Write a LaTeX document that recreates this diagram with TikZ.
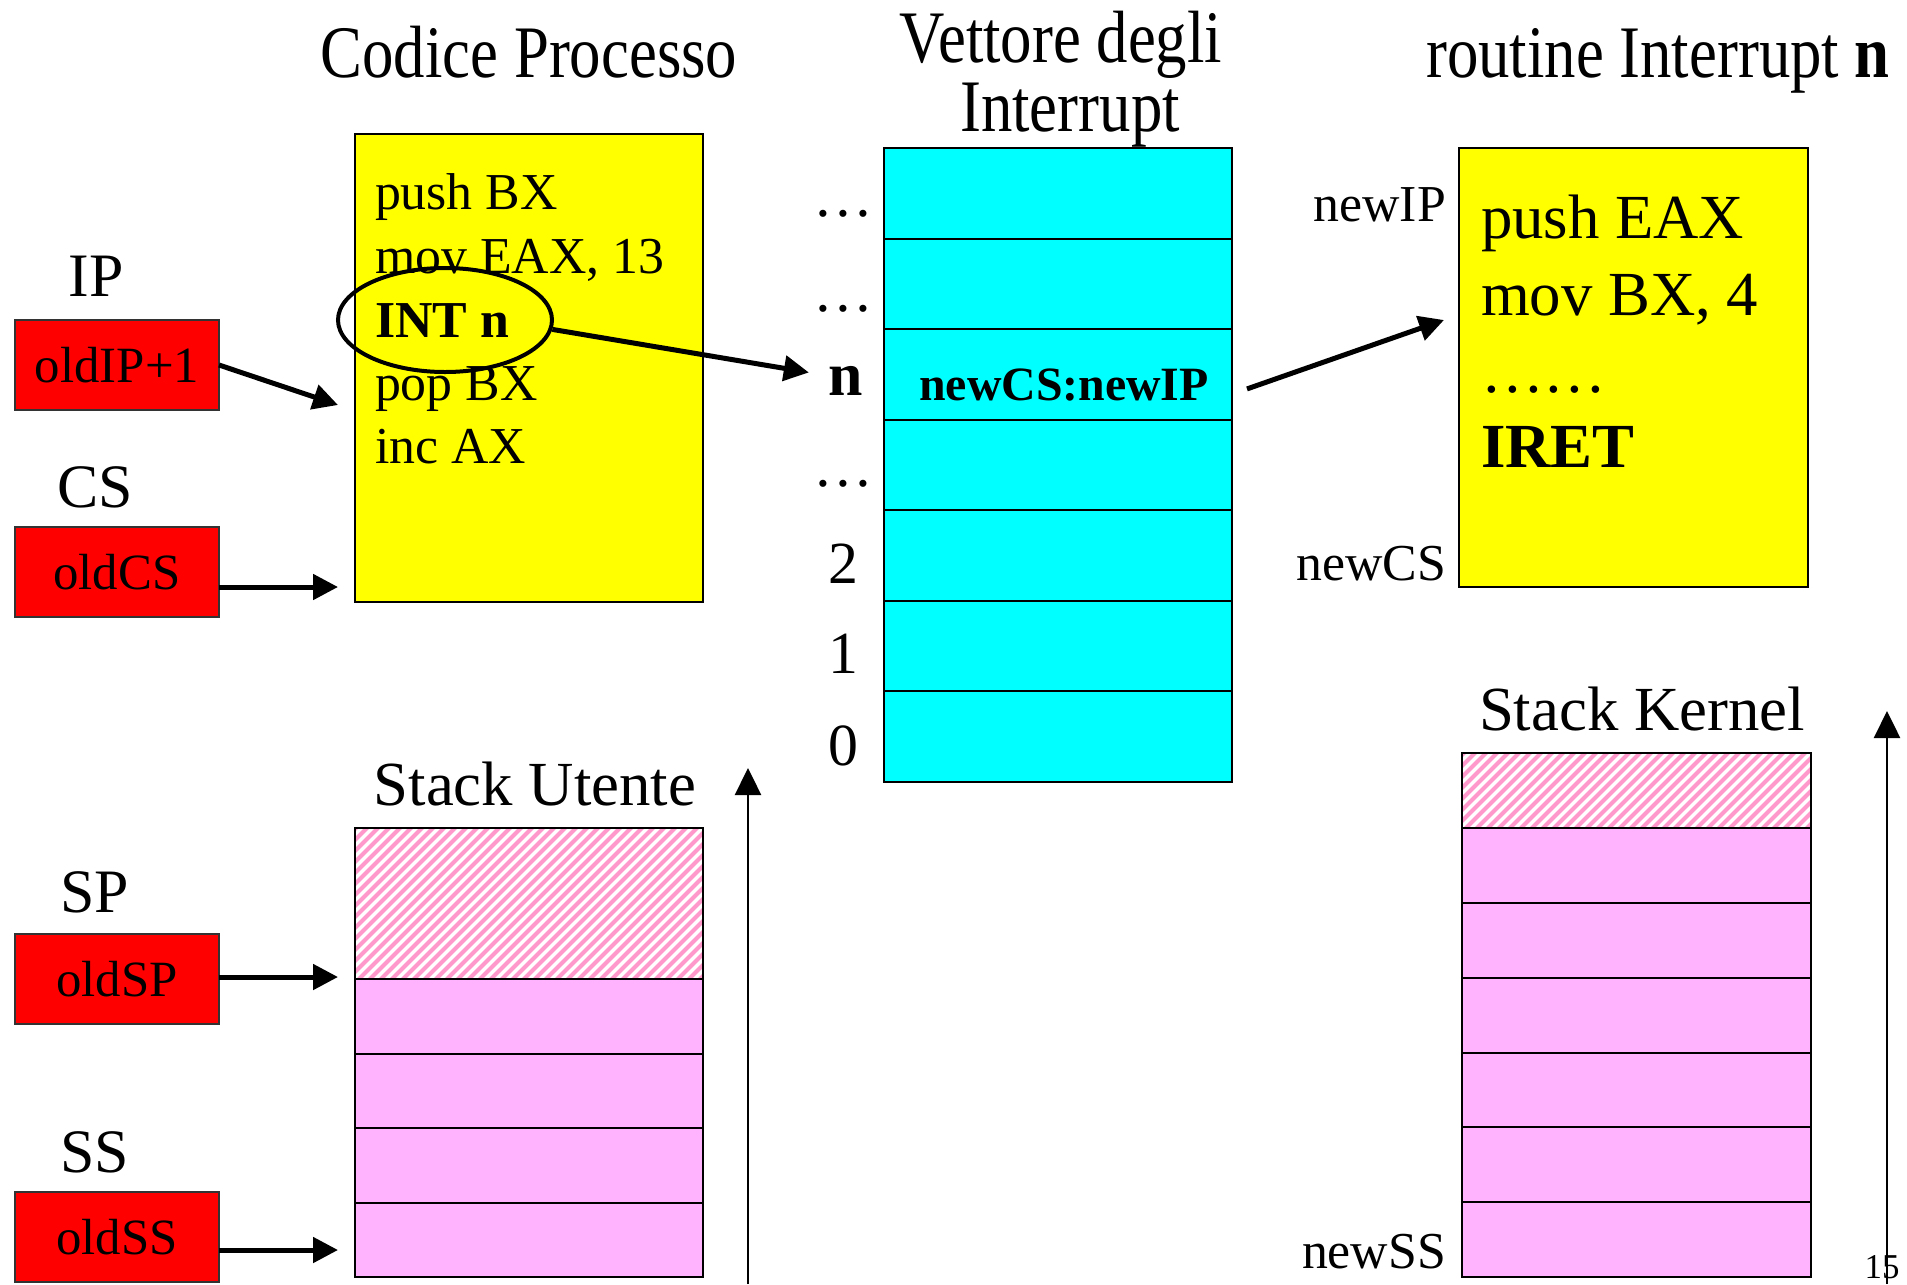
\documentclass[tikz,border=0pt]{standalone}
\usepackage{fontspec}
\setmainfont{Liberation Serif}
\usepackage{graphicx}
\usetikzlibrary{arrows.meta,shapes.geometric,calc}
\definecolor{cyanv}{RGB}{0,255,255}
\definecolor{yel}{RGB}{255,255,0}
\definecolor{redb}{RGB}{255,0,0}
\definecolor{pinkf}{RGB}{255,179,255}
\definecolor{pinkh}{RGB}{255,153,204}
\newcommand{\fsz}[1]{\fontsize{#1}{#1}\selectfont}
\newcommand{\tstretch}[1]{\scalebox{1}[1.18]{#1}}
\tikzset{
  box/.style={draw=black, line width=2bp, inner sep=0pt, outer sep=0pt, anchor=north west},
  redbox/.style={box, draw=black!80, line width=1.5bp, fill=redb, minimum width=204bp, minimum height=90bp, font=\fsz{51}},
  bigarrow/.style={line width=5bp, -{Triangle[length=25bp,width=25bp]}},
  uparrow/.style={line width=2.5bp, -{Triangle[length=27bp,width=26bp]}},
  txt/.style={inner sep=0pt, outer sep=0pt, anchor=base},
  title/.style={txt, font=\fsz{63}},
  codetxt/.style={txt, anchor=base west, font=\fsz{52}},
  routtxt/.style={txt, anchor=base west, font=\fsz{63}},
  reglab/.style={txt, font=\fsz{62}},
  addr/.style={txt, anchor=base east, font=\fsz{52}},
  veclab/.style={txt, font=\fsz{60}},
  hatchbox/.style={box, path picture={
      \foreach \i in {-20,...,36}{
        \draw[pinkh, line width=4bp] ($(path picture bounding box.south west)+(\i*11,4)$) -- ++(200,-200);
      }}},
  pinkrow/.style={box, fill=pinkf}
}
\begin{document}
\begin{tikzpicture}[x=1bp, y=-1bp]
\useasboundingbox (0,0) rectangle (1907,1284);

% Titles
\node[title] (tCode) at (529,77) {\tstretch{Codice Processo}};
\node[title] (tVec1) at (1061,62) {\tstretch{Vettore degli}};
\node[title] (tVec2) at (1070,131) {\tstretch{Interrupt}};
\node[title] (tRout) at (1658,77) {\tstretch{routine Interrupt \textbf{n}}};

% Code box
\node[box, fill=yel, minimum width=348bp, minimum height=468bp] (code) at (355,134) {};
\node[codetxt] (c1) at (375,209) {push BX};
\node[codetxt] (c2) at (375,273) {mov EAX, 13};
\node[codetxt] (c3) at (375,337) {\textbf{INT n}};
\node[codetxt] (c4) at (375,400) {pop BX};
\node[codetxt] (c5) at (375,463) {inc AX};
\node[ellipse, draw=black, line width=4bp, minimum width=214bp, minimum height=104bp, inner sep=0pt] (ell) at (445,320) {};

% Registers
\node[reglab] (lIP) at (96,296) {IP};
\node[reglab] (lCS) at (95,507) {CS};
\node[reglab] (lSP) at (95,912) {SP};
\node[reglab] (lSS) at (95,1172) {SS};
\node[redbox] (rIP) at (15,320) {oldIP+1};
\node[redbox] (rCS) at (15,527) {oldCS};
\node[redbox] (rSP) at (15,934) {oldSP};
\node[redbox] (rSS) at (15,1192) {oldSS};
\coordinate (aIP) at (338,405);
\coordinate (aCS) at (338,587);
\coordinate (aSP) at (338,977);
\coordinate (aSS) at (338,1250);
\draw[bigarrow] (rIP.east) -- (aIP);
\draw[bigarrow] (rCS.east |- aCS) -- (aCS);
\draw[bigarrow] (rSP.east |- aSP) -- (aSP);
\draw[bigarrow] (rSS.east |- aSS) -- (aSS);

% Interrupt vector
\foreach \i in {1,...,7}{
  \node[box, fill=cyanv, minimum width=348bp, minimum height=90.57bp] (v\i) at (884,{148+(\i-1)*90.57}) {};
}
\node[veclab] (l1) at (843,216) {…};
\node[veclab] (l2) at (843,311) {…};
\node[veclab, font=\fsz{62}\bfseries] (nlab) at (846,395) {n};
\node[veclab] (l4) at (843,486) {…};
\node[veclab] (l5) at (843,583) {2};
\node[veclab] (l6) at (843,673) {1};
\node[veclab] (l7) at (843,765) {0};
\node[txt, font=\fsz{48}\bfseries] (nv) at (1064,400) {newCS:newIP};
\draw[bigarrow] (ell.-5) -- ($(nlab.west)+(-20,-8)$);

% Routine
\node[box, fill=yel, minimum width=349bp, minimum height=439bp] (rout) at (1459,148) {};
\node[routtxt] (r1) at (1481,238) {push EAX};
\node[routtxt] (r2) at (1481,315) {mov BX, 4};
\node[routtxt] (r3) at (1481,392) {……};
\node[routtxt] (r4) at (1481,467) {\textbf{IRET}};
\node[addr] (aNIP) at (1446,221) {newIP};
\node[addr] (aNCS) at (1446,580) {newCS};
\draw[bigarrow] ($(v3.east)+(15,14.5)$) -- ($(rout.west)+(-15,-47.5)$);

% Stack Utente
\node[txt, font=\fsz{63}] (tSU) at (535,805) {Stack Utente};
\node[hatchbox, minimum width=348bp, minimum height=151bp] (uh) at (355,828) {};
\foreach \i in {1,...,4}{
  \node[pinkrow, minimum width=348bp, minimum height=74.5bp] (u\i) at (355,{979+(\i-1)*74.5}) {};
}
\coordinate (uaB) at (748,1284);
\coordinate (uaT) at (748,768);
\draw[uparrow] (uaB) -- (uaT);

% Stack Kernel
\node[txt, font=\fsz{63}] (tSK) at (1642,730) {Stack Kernel};
\node[hatchbox, minimum width=349bp, minimum height=75bp] (kh) at (1462,753) {};
\foreach \i in {1,...,6}{
  \node[pinkrow, minimum width=349bp, minimum height=74.83bp] (k\i) at (1462,{828+(\i-1)*74.83}) {};
}
\node[addr] (aNSS) at (1446,1268) {newSS};
\node[txt, font=\fsz{35}] (pg) at (1882,1278) {15};
\coordinate (kaB) at (1887,1284);
\coordinate (kaT) at (1887,711);
\draw[uparrow] (kaB) -- (kaT);
\end{tikzpicture}
\end{document}
